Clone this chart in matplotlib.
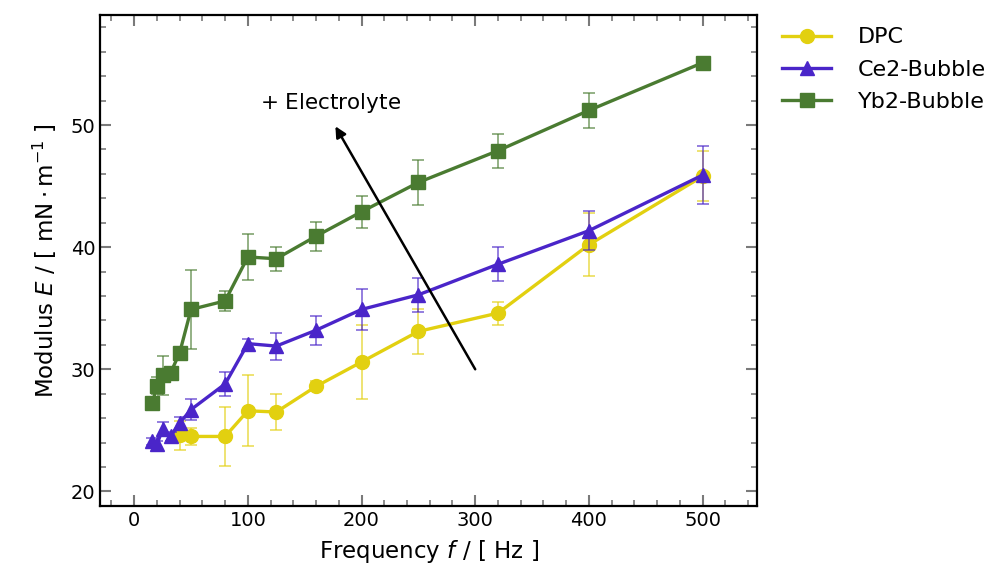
import matplotlib
matplotlib.use("Agg")
import matplotlib.pyplot as plt
from matplotlib.ticker import MultipleLocator

plt.rcParams["font.family"] = ["DejaVu Sans"]
plt.rcParams["mathtext.fontset"] = "dejavusans"

# Frequencies (Hz)
freq_dpc = [40, 50, 80, 100, 125, 160, 200, 250, 320, 400, 500]
freq_bubble = [16, 20, 25, 32, 40, 50, 80, 100, 125, 160, 200, 250, 320, 400, 500]

# Dilatational modulus (mN/m) with standard deviations
dpc = [24.6, 24.5, 24.5, 26.6, 26.5, 28.6, 30.6, 33.1, 34.6, 40.2, 45.8]
dpc_err = [1.2, 0.7, 2.4, 2.9, 1.45, 0.4, 3.0, 1.85, 0.95, 2.6, 2.05]

ce2 = [24.1, 23.85, 25.1, 24.5, 25.6, 26.7, 28.8, 32.1, 31.9, 33.2, 34.9, 36.1, 38.6, 41.35, 45.9]
ce2_err = [0.3, 0.3, 0.6, 0.4, 0.5, 0.85, 1.0, 0.4, 1.1, 1.2, 1.65, 1.4, 1.4, 1.6, 2.4]

yb2 = [27.25, 28.65, 29.5, 29.7, 31.35, 34.9, 35.6, 39.2, 39.05, 40.9, 42.9, 45.3, 47.9, 51.2, 55.1]
yb2_err = [0.3, 0.7, 1.6, 0.5, 0.4, 3.25, 0.85, 1.9, 1.0, 1.2, 1.3, 1.85, 1.4, 1.4, 0.3]

series = [
    ("DPC", freq_dpc, dpc, dpc_err, "#e2d010", "o", 10),
    ("Ce2-Bubble", freq_bubble, ce2, ce2_err, "#4a25c9", "^", 10),
    ("Yb2-Bubble", freq_bubble, yb2, yb2_err, "#4a7b31", "s", 9.5),
]

fig = plt.figure(figsize=(9.91, 5.83), dpi=100)
ax = fig.add_axes([0.101, 0.132, 0.663, 0.842])

for label, x, y, err, color, marker, ms in series:
    ax.errorbar(x, y, yerr=err, fmt="none", ecolor=color,
                elinewidth=1.1, capsize=4.5, capthick=1.1, alpha=0.75)
    ax.plot(x, y, color=color, marker=marker, markersize=ms,
            linewidth=2.4, label=label)

ax.set_xlim(-30, 548)
ax.set_ylim(18.8, 59.0)
ax.xaxis.set_major_locator(MultipleLocator(100))
ax.xaxis.set_minor_locator(MultipleLocator(20))
ax.yaxis.set_major_locator(MultipleLocator(10))
ax.yaxis.set_minor_locator(MultipleLocator(2))
ax.tick_params(which="both", direction="in", top=True, right=True,
               color="#7a7a7a", labelsize=14)
ax.tick_params(which="major", length=8, width=1.5)
ax.tick_params(which="minor", length=4.5, width=1.2)
for sp in ax.spines.values():
    sp.set_linewidth(1.6)

ax.set_xlabel(r"Frequency $f\ /\ \left[\ \mathrm{Hz}\ \right]$", fontsize=16.5, labelpad=6)
ax.set_ylabel(r"Modulus $E\ /\ \left[\ \mathrm{mN}\cdot\mathrm{m}^{-1}\ \right]$", fontsize=16.5, labelpad=8)

ax.annotate("", xy=(177, 49.9), xytext=(300, 30.0),
            arrowprops=dict(arrowstyle="-|>", color="black", lw=1.8,
                            mutation_scale=16, shrinkA=0, shrinkB=0))
ax.text(111, 51.8, r"$+$ Electrolyte", fontsize=15.5, ha="left", va="center")

ax.legend(loc="upper left", bbox_to_anchor=(1.02, 1.0), frameon=False,
          fontsize=16, handlelength=2.2, handletextpad=1.2, labelspacing=0.55,
          borderaxespad=0.15)

fig.savefig("out.png", dpi=100)
